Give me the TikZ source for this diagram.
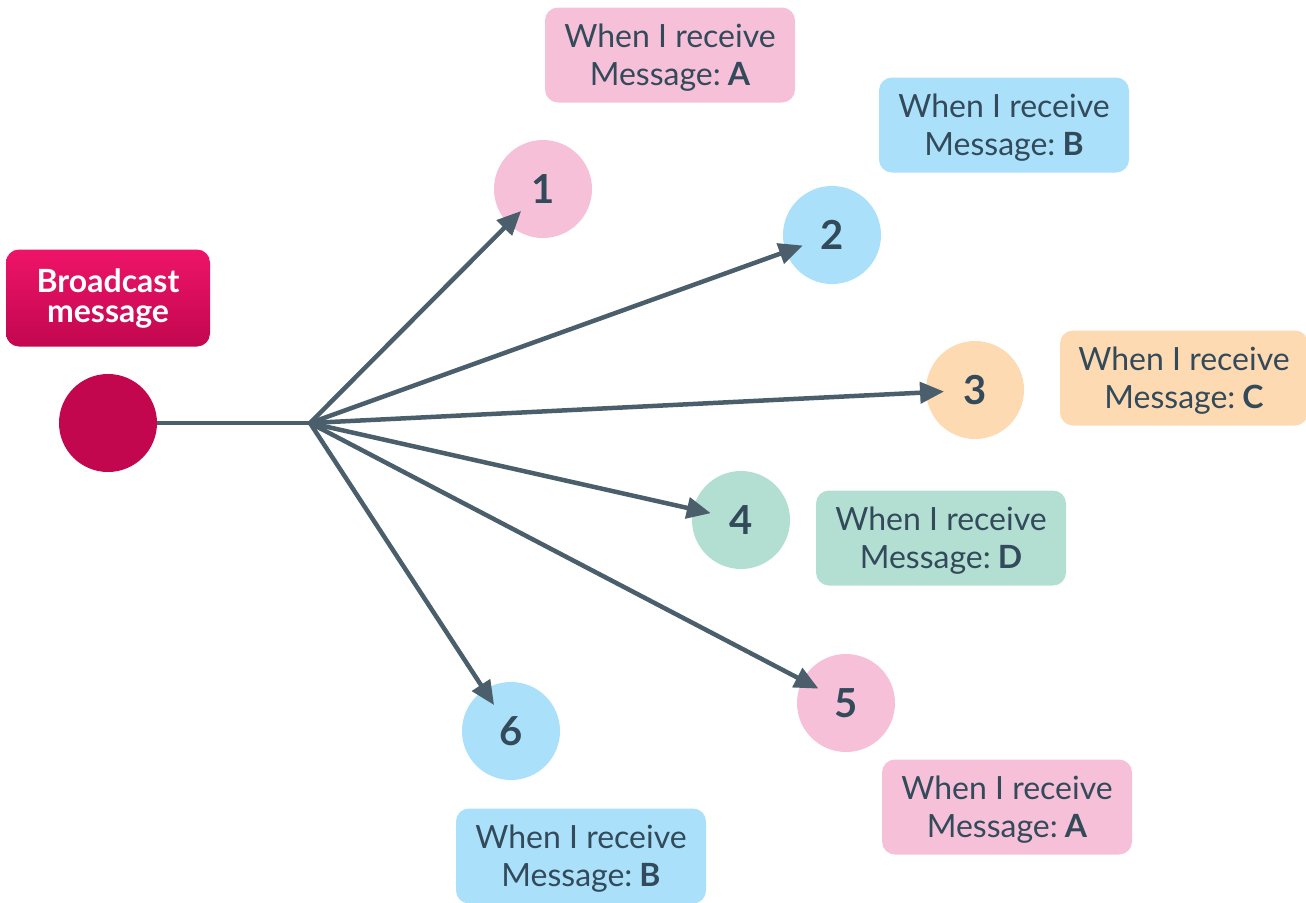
\documentclass[tikz,border=0pt]{standalone}
\usepackage{fontspec}
\setmainfont{Lato}
\usetikzlibrary{arrows.meta,calc}
\definecolor{pinkc}{HTML}{F7C0D9}
\definecolor{bluec}{HTML}{AAE0F9}
\definecolor{orangec}{HTML}{FDDAB2}
\definecolor{greenc}{HTML}{B3DFD3}
\definecolor{textc}{HTML}{324A5A}
\definecolor{arrowc}{HTML}{4A5F6B}
\definecolor{magtop}{HTML}{EE1468}
\definecolor{magbot}{HTML}{C2074F}
\newcommand{\msg}[1]{\rule{0pt}{29.5pt}When I receive\\Message:\hspace{0.22em}\textbf{#1}}
\tikzset{
  x=1pt,y=-1pt,
  msgbox/.style={rounded corners=13pt, minimum width=250pt, minimum height=95pt, align=center, text=textc, font=\fontsize{32}{38}\selectfont, inner sep=0pt},
  numc/.style={circle, minimum size=98pt, inner sep=0pt, text=textc, font=\fontsize{40}{44}\selectfont\bfseries},
  conn/.style={draw=arrowc, line width=4.5pt},
  arr/.style={conn, -{Triangle[length=24pt,width=21pt]}},
}
\begin{document}
\begin{tikzpicture}
\useasboundingbox (0,0) rectangle (1306,902);
% broadcast
\node[rounded corners=13pt, minimum width=204pt, minimum height=97pt, top color=magtop, bottom color=magbot, draw=none, text=white, align=center, font=\fontsize{32}{30}\selectfont\bfseries, inner sep=0pt] (bm) at (108,298) {Broadcast\\message};
\node[circle, fill=magbot, minimum size=98pt, inner sep=0pt] (src) at (108,423) {};
\coordinate (hub) at (310,423);
% numbered circles
\node[numc, fill=pinkc] (c1) at (543,189) {1};
\node[numc, fill=bluec] (c2) at (832,235) {2};
\node[numc, fill=orangec] (c3) at (975,390) {3};
\node[numc, fill=greenc] (c4) at (741,520) {4};
\node[numc, fill=pinkc] (c5) at (846,703) {5};
\node[numc, fill=bluec] (c6) at (511,731) {6};
% message boxes
\node[msgbox, fill=pinkc] (m1) at (670,55) {\msg{A}};
\node[msgbox, fill=bluec] (m2) at (1004,125) {\msg{B}};
\node[msgbox, fill=orangec, minimum width=248pt] (m3) at (1184,378) {\msg{C}};
\node[msgbox, fill=greenc] (m4) at (941,538) {\msg{D}};
\node[msgbox, fill=pinkc] (m5) at (1007,807) {\msg{A}};
\node[msgbox, fill=bluec] (m6) at (581,856) {\msg{B}};
% connectors
\draw[conn] (src.east) -- (hub);
\foreach \c in {c1,c2,c3,c4,c5,c6}
  \draw[arr] (hub) -- ($(\c)!31pt!(hub)$);
\end{tikzpicture}
\end{document}
